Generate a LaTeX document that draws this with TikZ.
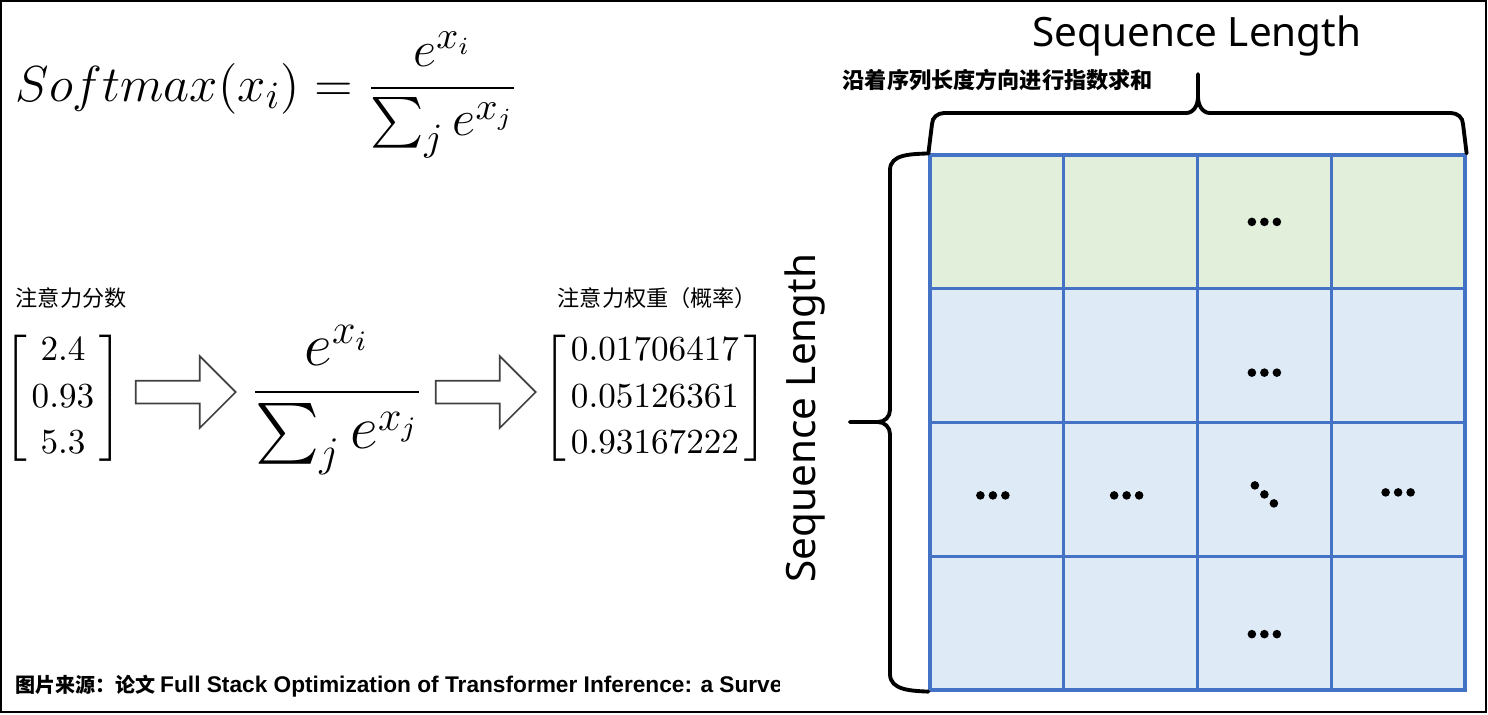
\documentclass[tikz,border=0pt]{standalone}
\usepackage{amsmath}
\usepackage[no-math]{fontspec}
\newfontfamily\cjkfont{Noto Sans CJK SC}
\newfontfamily\labelfont{Noto Sans}
\newfontfamily\capfont{Liberation Sans}
\usetikzlibrary{shapes.arrows,calc}
\definecolor{gridblue}{RGB}{68,114,196}
\definecolor{rowgreen}{RGB}{226,239,218}
\definecolor{cellblue}{RGB}{222,235,247}
\tikzset{
  txt/.style={inner sep=0pt},
  cell/.style={draw=gridblue,line width=0.9pt,minimum size=1.3375cm,inner sep=0pt},
  bracestroke/.style={line width=1.1pt,line cap=round},
  blockarrow/.style={single arrow,draw=black!75,line width=0.5pt,fill=white,
    minimum height=1cm,inner sep=0.105cm,single arrow head extend=0.245cm},
}
\newcommand\dotrow[3]{\foreach \dx in {-12.5,0,12.5}{\fill ($(#1)+(\dx+#2,#3)$) circle (4.3);}}
\newcommand\colvec[1]{\fontsize{9.6}{11.5}\selectfont\setlength\arraycolsep{1.5pt}%
  $\renewcommand\arraystretch{1.15}\left[\begin{array}{c}#1\end{array}\right]$}
\begin{document}
\begin{tikzpicture}[x=0.01cm,y=-0.01cm]
\useasboundingbox (0,0) rectangle (1488,714);
\draw[line width=0.6pt] (1,1) rectangle (1486,712);

% softmax definition
\node[txt,anchor=base west] (formula) at (15,101)
  {\fontsize{15}{18}\selectfont$\displaystyle Softmax(x_i)=\frac{e^{x_i}}{\sum_j e^{x_j}}$};

% scores -> softmax -> weights
\node[txt,anchor=west] (scorelbl) at (15,298) {\cjkfont\fontsize{6.3}{8}\selectfont 注意力分数};
\node[txt] (scores) at (63,398) {\colvec{2.4\\0.93\\5.3}};
\node[blockarrow] (arrowA) at (180,392) {};
\node[txt,anchor=base] (expfrac) at (337,407)
  {\fontsize{16.5}{20}\selectfont$\displaystyle\frac{e^{x_i}}{\sum_j e^{x_j}}$};
\node[blockarrow] (arrowB) at (480,392) {};
\node[txt,anchor=west] (weightlbl) at (557,298) {\cjkfont\fontsize{6.3}{8}\selectfont 注意力权重（概率）};
\node[txt] (weights) at (655,398) {\colvec{0.01706417\\0.05126361\\0.93167222}};

% attention matrix
\foreach \r in {1,...,4}
  \foreach \c in {1,...,4}{
    \ifnum\r=1 \def\cellfill{rowgreen}\else\def\cellfill{cellblue}\fi
    \node[cell,fill=\cellfill] (c\r\c) at ({996.875+(\c-1)*133.75},{221.875+(\r-1)*133.75}) {};
  }
\dotrow{c13}{0}{0}
\dotrow{c23}{0}{17}
\dotrow{c31}{-4}{6}
\dotrow{c32}{-4}{6}
\dotrow{c34}{0}{3}
\dotrow{c43}{0}{11}
\foreach \d in {-1,0,1}{\fill ($(c33)+(9.5*\d,5+9*\d)$) circle (4.3);}

% braces
\draw[bracestroke] (c11.north west) -- (932,124) to[out=90,in=180] (944,113) -- (1186,113)
  to[out=0,in=-90] (1198,97) -- (1198,74);
\draw[bracestroke] (1198,97) to[out=-90,in=180] (1210,113) -- (1451,113)
  to[out=0,in=90] (1463,124) -- (c14.north east);
\draw[bracestroke] (c11.north west) to[out=183,in=90] (890,170) -- (890,410)
  to[out=-90,in=0] (878,422) -- (850,422);
\draw[bracestroke] (850,422) -- (878,422) to[out=0,in=90] (890,434) -- (890,674)
  to[out=-90,in=177] (c41.south west);

\node[txt] (toplbl) at (1197,36) {\labelfont\fontsize{11.5}{14}\selectfont Sequence Length};
\node[txt,anchor=west] (sumlbl) at (842,80)
  {\cjkfont\bfseries\fontsize{6.3}{8}\selectfont 沿着序列长度方向进行指数求和};
\node[txt,rotate=90] (sidelbl) at (805,418) {\labelfont\fontsize{11.5}{14}\selectfont Sequence Length};

% source
\begin{scope}
\clip (0,650) rectangle (779,714);
\node[txt,anchor=base west] (source) at (15,692)
  {\bfseries{\cjkfont\fontsize{5.7}{8}\selectfont 图片来源：论文}\hspace{1.2pt}{\capfont\fontsize{6.45}{8}\selectfont Full Stack Optimization of Transformer Inference: a Survey}};
\end{scope}
\end{tikzpicture}
\end{document}
